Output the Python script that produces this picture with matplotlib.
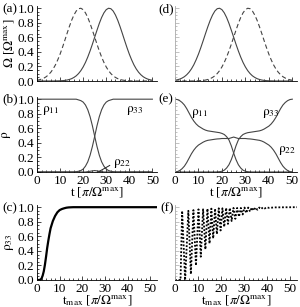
import numpy as np
import matplotlib.pyplot as plt

plt.rcParams['font.family'] = ['Liberation Serif', 'DejaVu Serif']
plt.rcParams['mathtext.fontset'] = 'stix'
plt.rcParams['font.size'] = 9.5

# ---- data ----
t = list(range(51))

# pulse shapes (a)/(d)
omega_late = [0, 0, 0, 0, 0, 0, 0, 0, 0.001, 0.002, 0.003, 0.005, 0.008, 0.013, 0.021,
              0.032, 0.049, 0.071, 0.102, 0.142, 0.193, 0.255, 0.329, 0.413, 0.505, 0.602,
              0.698, 0.791, 0.872, 0.936, 0.980, 0.999, 0.993, 0.961, 0.906, 0.833, 0.746,
              0.651, 0.553, 0.458, 0.369, 0.291, 0.222, 0.166, 0.121, 0.086, 0.059, 0.040,
              0.026, 0.017, 0.010]
omega_early = [0.010, 0.017, 0.026, 0.040, 0.059, 0.086, 0.121, 0.166, 0.222, 0.291, 0.369,
               0.458, 0.553, 0.651, 0.746, 0.833, 0.906, 0.961, 0.993, 0.999, 0.980, 0.936,
               0.872, 0.791, 0.698, 0.602, 0.505, 0.413, 0.329, 0.255, 0.193, 0.142, 0.102,
               0.071, 0.049, 0.032, 0.021, 0.013, 0.008, 0.005, 0.003, 0.002, 0.001,
               0, 0, 0, 0, 0, 0, 0, 0]

# populations (b)
rho11_b = [1.0] * 18 + [0.99, 0.98, 0.96, 0.92, 0.855, 0.76, 0.635, 0.49, 0.35, 0.23, 0.14,
                        0.08, 0.04, 0.02, 0.01, 0.004] + [0] * 17
rho33_b = [0] * 17 + [0.004, 0.01, 0.02, 0.04, 0.08, 0.14, 0.23, 0.35, 0.49, 0.635, 0.76,
                      0.855, 0.92, 0.96, 0.98, 0.99] + [1.0] * 18
rho22_b = [0] * 22 + [0.005, 0.01, 0.015, 0.02, 0.015, 0.01, 0.005] + [0] * 22

# populations (e)
rho11_e = [1.0, 0.995, 0.98, 0.955, 0.92, 0.87, 0.81, 0.75, 0.70, 0.66, 0.63, 0.61, 0.59,
           0.575, 0.565, 0.56, 0.555, 0.55, 0.545, 0.54, 0.53, 0.515, 0.485, 0.44, 0.36,
           0.26, 0.17, 0.10, 0.055, 0.025, 0.01, 0.004, 0.001] + [0] * 18
rho33_e = [0] * 18 + [0.001, 0.004, 0.01, 0.025, 0.055, 0.10, 0.17, 0.26, 0.36, 0.44, 0.485,
                      0.515, 0.53, 0.54, 0.545, 0.55, 0.555, 0.56, 0.565, 0.575, 0.59, 0.61,
                      0.63, 0.66, 0.70, 0.75, 0.81, 0.87, 0.92, 0.955, 0.98, 0.995, 1.0]
rho22_e = [0, 0.005, 0.02, 0.045, 0.08, 0.13, 0.19, 0.25, 0.30, 0.34, 0.37, 0.39, 0.41,
           0.425, 0.435, 0.44, 0.445, 0.45, 0.454, 0.456, 0.46, 0.46, 0.46, 0.46, 0.47, 0.48,
           0.47, 0.46, 0.46, 0.46, 0.46, 0.456, 0.454, 0.45, 0.445, 0.44, 0.435, 0.425, 0.41,
           0.39, 0.37, 0.34, 0.30, 0.25, 0.19, 0.13, 0.08, 0.045, 0.02, 0.005, 0]

# final population vs t_max (c)
tmax_c = [0, 1, 1.5, 2, 2.5, 3, 3.5, 4, 4.5, 5, 5.5, 6, 7, 8, 9, 10, 11, 12, 13, 14, 16,
          20, 30, 40, 50, 53]
rho33_c = [0, 0, 0.005, 0.02, 0.06, 0.12, 0.21, 0.32, 0.44, 0.54, 0.63, 0.71, 0.81, 0.88,
           0.93, 0.96, 0.975, 0.985, 0.993, 0.997, 1.0, 1.0, 1.0, 1.0, 1.0, 1.0]

# final population vs t_max (f), peaks and troughs
tmax_f = [0, 2.4, 3.1, 4.4, 5.8, 6.9, 8.0, 9.1, 10.2, 11.2, 12.2, 13.2, 14.1, 15.0, 15.8,
          16.6, 17.4, 18.2, 19.0, 19.8, 20.6, 21.4, 22.2, 23.0, 23.8, 24.6, 25.4, 26.2,
          27.0, 27.8, 28.6, 29.4, 30.2, 31.0, 31.8, 32.6, 33.4, 34.2, 35.0, 35.8, 36.6,
          37.4, 38.2, 39.0, 39.8, 41, 43, 46, 53]
rho33_f = [0, 0, 0.95, 0.0, 0.95, 0.08, 0.96, 0.2, 0.97, 0.32, 0.97, 0.42, 0.98, 0.5, 0.98,
           0.57, 0.98, 0.63, 0.985, 0.68, 0.985, 0.73, 0.99, 0.77, 0.99, 0.81, 0.99, 0.84,
           0.99, 0.87, 0.99, 0.9, 0.995, 0.92, 0.995, 0.94, 0.995, 0.955, 0.995, 0.965,
           0.995, 0.975, 0.997, 0.983, 0.997, 0.99, 0.997, 0.998, 1.0]

fig = plt.figure(figsize=(3.0, 3.07), dpi=100)


def box(x0, y0, x1, y1):
    return [x0 / 300, 1 - y1 / 307, (x1 - x0) / 300, (y1 - y0) / 307]


def frame(ax, left=True, xlabels=True):
    ax.set_xlim(0, 52)
    ax.set_ylim(0, 1.03)
    ax.patch.set_alpha(0)
    for s in ['top', 'right']:
        ax.spines[s].set_visible(False)
    for s in ['left', 'bottom']:
        ax.spines[s].set_linewidth(0.6)
    ax.set_xticks([0, 10, 20, 30, 40, 50])
    ax.set_xticks(np.arange(0, 52, 2), minor=True)
    ax.set_yticks([0, 0.2, 0.4, 0.6, 0.8, 1.0])
    ax.set_yticks(np.arange(0, 1.01, 0.05), minor=True)
    ax.tick_params(which='both', direction='in', width=0.5, pad=2)
    ax.tick_params(which='major', length=3)
    ax.tick_params(which='minor', length=1.5)
    ax.yaxis.set_major_formatter(plt.FormatStrFormatter('%.1f'))
    if not left:
        ax.tick_params(labelleft=False)
        ax.spines['left'].set_color('#aaaaaa')
        ax.tick_params(axis='y', which='both', color='#aaaaaa')
    if not xlabels:
        ax.tick_params(labelbottom=False)


lw = 0.8
ax_a = fig.add_axes(box(37, 6, 157, 81))
ax_b = fig.add_axes(box(37, 97, 157, 172))
ax_c = fig.add_axes(box(37, 205, 157, 280))
ax_d = fig.add_axes(box(175, 6, 297, 81))
ax_e = fig.add_axes(box(175, 97, 297, 172))
ax_f = fig.add_axes(box(175, 205, 297, 280))

frame(ax_a, xlabels=False)
ax_a.plot(t, omega_early, color='#444444', lw=lw, ls=(0, (4, 2.5)))
ax_a.plot(t, omega_late, color='#444444', lw=lw)
ax_a.set_ylabel(r'$\Omega$ [$\Omega^{\rm max}$]', labelpad=1)

frame(ax_d, left=False, xlabels=False)
ax_d.plot(t, omega_early, color='#444444', lw=lw)
ax_d.plot(t, omega_late, color='#444444', lw=lw, ls=(0, (4, 2.5)))

frame(ax_b)
ax_b.plot(t, rho11_b, color='#444444', lw=lw)
ax_b.plot(t, rho33_b, color='#444444', lw=lw)
ax_b.plot(t, rho22_b, color='#444444', lw=lw)
ax_b.set_ylabel(r'$\mathrm{\rho}$', labelpad=3)
ax_b.set_xlabel(r't [$\pi/\Omega^{\rm max}$]', labelpad=-1)
ax_b.text(2, 0.84, r'$\mathrm{\rho}_{11}$', va='center')
ax_b.text(38.5, 0.84, r'$\mathrm{\rho}_{33}$', va='center')
ax_b.text(33, 0.12, r'$\mathrm{\rho}_{22}$', va='center')
ax_b.plot([26.5, 31.5], [0.0, 0.09], color='#222222', lw=0.7)

frame(ax_e, left=False)
ax_e.plot(t, rho11_e, color='#444444', lw=lw)
ax_e.plot(t, rho33_e, color='#444444', lw=lw)
ax_e.plot(t, rho22_e, color='#444444', lw=lw)
ax_e.set_xlabel(r't [$\pi/\Omega^{\rm max}$]', labelpad=-1)
ax_e.text(7, 0.8, r'$\mathrm{\rho}_{11}$', va='center')
ax_e.text(37, 0.8, r'$\mathrm{\rho}_{33}$', va='center')
ax_e.text(44, 0.3, r'$\mathrm{\rho}_{22}$', va='center')

frame(ax_c)
ax_c.set_xlim(0, 53)
ax_c.plot(tmax_c, rho33_c, color='black', lw=1.6)
ax_c.set_ylabel(r'$\mathrm{\rho}_{33}$', labelpad=1)
ax_c.set_xlabel(r't$_{\rm max}$ [$\pi/\Omega^{\rm max}$]', labelpad=-1)

frame(ax_f, left=False)
ax_f.set_xlim(0, 53)
ax_f.plot(tmax_f, rho33_f, color='black', lw=1.3, ls=(0, (1, 1)))
ax_f.set_xlabel(r't$_{\rm max}$ [$\pi/\Omega^{\rm max}$]', labelpad=-1)

fig.text(2 / 300, 1 - 9 / 307, '(a)', va='center')
fig.text(2 / 300, 1 - 99 / 307, '(b)', va='center')
fig.text(2 / 300, 1 - 208 / 307, '(c)', va='center')
fig.text(158 / 300, 1 - 9 / 307, '(d)', va='center')
fig.text(158 / 300, 1 - 99 / 307, '(e)', va='center')
fig.text(160 / 300, 1 - 208 / 307, '(f)', va='center')

fig.savefig('out.png', dpi=100)
